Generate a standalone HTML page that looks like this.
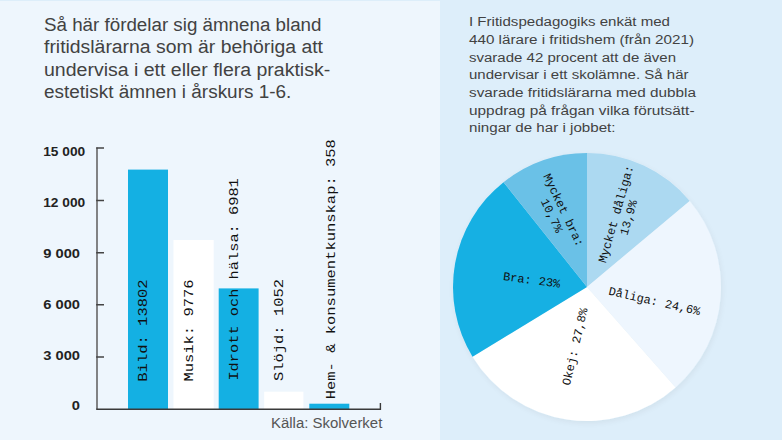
<!DOCTYPE html>
<html lang="sv">
<head>
<meta charset="utf-8">
<title>Fritidslärare</title>
<style>
html,body{margin:0;padding:0;}
body{width:782px;height:440px;overflow:hidden;background:#ddeefa;position:relative;}
svg{position:absolute;left:0;top:0;display:block;}
.sans{font-family:"Liberation Sans",Arial,sans-serif;}
.mono{font-family:"Liberation Mono","Courier New",monospace;}
</style>
</head>
<body>
<svg width="782" height="440" viewBox="0 0 782 440">
  <defs>
    <filter id="sh" x="-10%" y="-10%" width="120%" height="120%">
      <feGaussianBlur in="SourceAlpha" stdDeviation="3"/>
      <feOffset dx="1" dy="1.5" result="b"/>
      <feComponentTransfer><feFuncA type="linear" slope="0.06"/></feComponentTransfer>
      <feMerge><feMergeNode/><feMergeNode in="SourceGraphic"/></feMerge>
    </filter>
  </defs>
  <!-- panels -->
  <rect x="0" y="0" width="782" height="440" fill="#ddeefa"/>
  <rect x="0" y="1" width="440" height="439" fill="#eef6fd"/>

  <!-- left title -->
  <g class="sans" font-size="18" fill="#424242">
    <text x="44" y="30.5" textLength="277.5" lengthAdjust="spacingAndGlyphs">Så här fördelar sig ämnena bland</text>
    <text x="44" y="53" textLength="279" lengthAdjust="spacingAndGlyphs">fritidslärarna som är behöriga att</text>
    <text x="44" y="75.5" textLength="286.2" lengthAdjust="spacingAndGlyphs">undervisa i ett eller flera praktisk-</text>
    <text x="44" y="98" textLength="247.3" lengthAdjust="spacingAndGlyphs">estetiskt ämnen i årskurs 1-6.</text>
  </g>

  <g class="sans" font-size="12.7" font-weight="bold" fill="#222">
    <text x="43.2" y="155.6" textLength="42" lengthAdjust="spacingAndGlyphs">15 000</text>
    <text x="43.2" y="206.5" textLength="42" lengthAdjust="spacingAndGlyphs">12 000</text>
    <text x="43.2" y="257.6" textLength="36.8" lengthAdjust="spacingAndGlyphs">9 000</text>
    <text x="43.2" y="308.5" textLength="36.8" lengthAdjust="spacingAndGlyphs">6 000</text>
    <text x="43.2" y="359.5" textLength="36.8" lengthAdjust="spacingAndGlyphs">3 000</text>
    <text x="71.8" y="410" textLength="8.2" lengthAdjust="spacingAndGlyphs">0</text>
  </g>

  <!-- bars -->
  <rect x="128" y="169.6" width="40" height="239.8" fill="#14b0e3"/>
  <rect x="173.5" y="240" width="40.2" height="169.4" fill="#ffffff"/>
  <rect x="218.7" y="288.4" width="39.9" height="121" fill="#14b0e3"/>
  <rect x="264.2" y="391.7" width="39.2" height="17.7" fill="#ffffff"/>
  <rect x="309.3" y="403.7" width="40" height="5.7" fill="#14b0e3"/>

  <!-- axis -->
  <g fill="none">
    <path d="M97 147.6 V409.3" stroke="#666" stroke-width="1.6"/>
    <path d="M96.2 409.3 H380.4 V403.1" stroke="#3a3a3a" stroke-width="1.4"/>
    <path d="M96.2 148.1 H104 M96.2 200.6 H104 M96.2 252.8 H104 M96.2 304.7 H104 M96.2 357.1 H104" stroke="#444" stroke-width="1.5"/>
  </g>

  <!-- bar labels -->
  <g class="mono" font-size="13.3" fill="#111">
    <text transform="translate(146.7 381.7) rotate(-90)" textLength="102.3" lengthAdjust="spacingAndGlyphs">Bild: 13802</text>
    <text transform="translate(193 381.6) rotate(-90)" textLength="102.2" lengthAdjust="spacingAndGlyphs">Musik: 9776</text>
    <text transform="translate(238.3 380.6) rotate(-90)" textLength="202.4" lengthAdjust="spacingAndGlyphs">Idrott och hälsa: 6981</text>
    <text transform="translate(283.3 381) rotate(-90)" textLength="102" lengthAdjust="spacingAndGlyphs">Slöjd: 1052</text>
    <text transform="translate(335.2 399.3) rotate(-90)" textLength="260.2" lengthAdjust="spacingAndGlyphs">Hem- &amp; konsumentkunskap: 358</text>
  </g>

  <text class="sans" x="271" y="427.5" font-size="14" fill="#555" textLength="111.3" lengthAdjust="spacingAndGlyphs">Källa: Skolverket</text>

  <!-- right text -->
  <g class="sans" font-size="13.7" fill="#424242">
    <text x="469" y="26.3" textLength="201" lengthAdjust="spacingAndGlyphs">I Fritidspedagogiks enkät med</text>
    <text x="469" y="44" textLength="225" lengthAdjust="spacingAndGlyphs">440 lärare i fritidshem (från 2021)</text>
    <text x="469" y="61.6" textLength="207" lengthAdjust="spacingAndGlyphs">svarade 42 procent att de även</text>
    <text x="469" y="79.3" textLength="219.5" lengthAdjust="spacingAndGlyphs">undervisar i ett skolämne. Så här</text>
    <text x="469" y="96.9" textLength="227" lengthAdjust="spacingAndGlyphs">svarade fritidslärarna med dubbla</text>
    <text x="469" y="114.5" textLength="225.5" lengthAdjust="spacingAndGlyphs">uppdrag på frågan vilka förutsätt-</text>
    <text x="469" y="132.2" textLength="146.5" lengthAdjust="spacingAndGlyphs">ningar de har i jobbet:</text>
  </g>

  <!-- pie -->
  <g filter="url(#sh)">
    <path d="M587 287 L587 153 A134 134 0 0 1 689.71 200.94 Z" fill="#acd9f1"/>
    <path d="M587 287 L689.71 200.94 A134 134 0 0 1 675.62 387.51 Z" fill="#eef6fe"/>
    <path d="M587 287 L675.62 387.51 A134 134 0 0 1 472.53 356.66 Z" fill="#ffffff"/>
    <path d="M587 287 L472.53 356.66 A134 134 0 0 1 503.55 182.16 Z" fill="#14b0e3"/>
    <path d="M587 287 L503.55 182.16 A134 134 0 0 1 587 153 Z" fill="#6bc1e7"/>
  </g>

  <!-- pie labels -->
  <g class="mono" font-size="12" fill="#111" text-anchor="middle">
    <g transform="translate(621.6 215.6) rotate(-74)">
      <text x="0" y="-2">Mycket dåliga:</text>
      <text x="0" y="11">13,9%</text>
    </g>
    <text transform="translate(654.5 301) rotate(12.8)" y="4">Dåliga: 24,6%</text>
    <text transform="translate(574.8 346.6) rotate(-77)" y="4">Okej: 27,8%</text>
    <text transform="translate(531.7 279.9) rotate(7.5)" y="4">Bra: 23%</text>
    <g transform="translate(558.3 212.5) rotate(64.5)">
      <text x="0" y="-2">Mycket bra:</text>
      <text x="0" y="11">10,7%</text>
    </g>
  </g>
</svg>
</body>
</html>
